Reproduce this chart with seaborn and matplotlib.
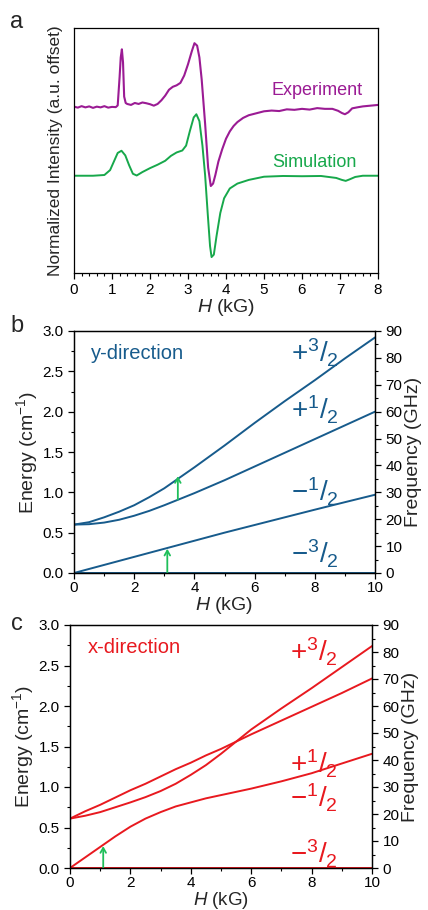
import matplotlib
matplotlib.use('Agg')
import matplotlib.pyplot as plt
import seaborn as sns
from matplotlib.ticker import MultipleLocator

# Цвета
purple = '#9b1b94'
green_sim = '#17a84b'
green_arrow = '#1fbf5a'
blue = '#175b8c'
red = '#e8191f'

# --- панель a: спектры ЭПР ---
exp_H = [0.0, 0.1, 0.2, 0.3, 0.4, 0.5, 0.6, 0.7, 0.8, 0.9, 1.0, 1.1, 1.15, 1.2, 1.23, 1.26,
         1.29, 1.32, 1.36, 1.4, 1.5, 1.6, 1.7, 1.8, 1.9, 2.0, 2.1, 2.2, 2.3, 2.4, 2.5, 2.6,
         2.7, 2.8, 2.9, 3.0, 3.1, 3.17, 3.24, 3.3, 3.36, 3.45, 3.53, 3.6, 3.66, 3.72, 3.8,
         3.9, 4.0, 4.1, 4.2, 4.3, 4.45, 4.6, 4.8, 5.0, 5.2, 5.4, 5.6, 5.8, 6.0, 6.2, 6.4,
         6.6, 6.8, 6.95, 7.05, 7.13, 7.22, 7.32, 7.45, 7.6, 7.8, 8.0]
exp_I = [0.679, 0.675, 0.681, 0.676, 0.680, 0.674, 0.679, 0.676, 0.681, 0.675, 0.678, 0.677,
         0.684, 0.80, 0.88, 0.913, 0.86, 0.72, 0.694, 0.690, 0.686, 0.694, 0.690, 0.696,
         0.693, 0.689, 0.683, 0.690, 0.705, 0.724, 0.748, 0.760, 0.766, 0.776, 0.806, 0.852,
         0.905, 0.938, 0.928, 0.88, 0.79, 0.61, 0.43, 0.355, 0.365, 0.40, 0.455, 0.505,
         0.548, 0.578, 0.600, 0.616, 0.633, 0.644, 0.652, 0.660, 0.663, 0.661, 0.668, 0.666,
         0.670, 0.667, 0.673, 0.670, 0.670, 0.662, 0.653, 0.648, 0.656, 0.672, 0.676, 0.680,
         0.683, 0.686]

sim_H = [0.0, 0.5, 0.8, 0.95, 1.05, 1.15, 1.25, 1.35, 1.45, 1.55, 1.65, 1.8, 2.0, 2.2, 2.4,
         2.55, 2.7, 2.85, 2.95, 3.05, 3.15, 3.22, 3.3, 3.38, 3.45, 3.52, 3.58, 3.62, 3.68,
         3.75, 3.85, 3.95, 4.1, 4.3, 4.6, 5.0, 5.5, 6.0, 6.5, 6.9, 7.05, 7.15, 7.25, 7.4,
         7.6, 8.0]
sim_I = [0.397, 0.397, 0.400, 0.420, 0.455, 0.490, 0.499, 0.480, 0.440, 0.405, 0.398, 0.412,
         0.428, 0.442, 0.458, 0.478, 0.492, 0.500, 0.52, 0.58, 0.635, 0.648, 0.620, 0.520,
         0.40, 0.24, 0.11, 0.065, 0.075, 0.15, 0.245, 0.305, 0.345, 0.365, 0.380, 0.393,
         0.396, 0.395, 0.396, 0.388, 0.380, 0.376, 0.382, 0.392, 0.397, 0.397]

# --- панель b: y-направление ---
yb_H = [0, 0.5, 1, 1.5, 2, 2.5, 3, 3.5, 4, 5, 6, 7, 8, 9, 10]
yb_p32 = [0.60, 0.63, 0.69, 0.76, 0.84, 0.94, 1.05, 1.18, 1.31, 1.58, 1.86, 2.13, 2.39, 2.66, 2.92]
yb_p12 = [0.60, 0.605, 0.625, 0.66, 0.71, 0.77, 0.84, 0.915, 0.99, 1.15, 1.32, 1.49, 1.66, 1.83, 2.00]
yb_m12 = [0.0, 0.05, 0.10, 0.15, 0.20, 0.25, 0.30, 0.35, 0.40, 0.50, 0.595, 0.69, 0.785, 0.878, 0.97]
yb_m32 = [0.0] * 15

# --- панель c: x-направление ---
xc_H = [0, 0.5, 1, 1.5, 2, 2.5, 3, 3.5, 4, 4.5, 5, 5.5, 6, 7, 8, 9, 10]
xc_upper = [0.61, 0.70, 0.78, 0.87, 0.96, 1.04, 1.13, 1.22, 1.30, 1.39, 1.47, 1.56, 1.65,
            1.82, 1.99, 2.16, 2.34]
xc_lower = [0.61, 0.645, 0.69, 0.75, 0.81, 0.875, 0.95, 1.04, 1.15, 1.27, 1.41, 1.56, 1.71,
            1.97, 2.22, 2.48, 2.74]
xc_m12 = [0.0, 0.13, 0.26, 0.39, 0.51, 0.61, 0.69, 0.76, 0.81, 0.86, 0.90, 0.94, 0.98,
          1.07, 1.17, 1.29, 1.41]
xc_m32 = [0.0] * 17

# стрелки переходов (H, E_низ, E_верх)
arrows_b = [(3.1, 0.0, 0.30), (3.45, 0.91, 1.20)]
arrows_c = [(1.1, 0.0, 0.27)]

spin_labels = [r'$+^{3}/_{2}$', r'$+^{1}/_{2}$', r'$-^{1}/_{2}$', r'$-^{3}/_{2}$']

sns.set_style('ticks')
plt.rcParams['font.family'] = ['Liberation Sans', 'DejaVu Sans']
plt.rcParams['mathtext.fontset'] = 'custom'
plt.rcParams['mathtext.rm'] = 'Liberation Sans'
plt.rcParams['mathtext.it'] = 'Liberation Sans:italic'
plt.rcParams['axes.edgecolor'] = 'black'
plt.rcParams['axes.linewidth'] = 0.9
plt.rcParams['xtick.color'] = 'black'
plt.rcParams['ytick.color'] = 'black'

fig = plt.figure(figsize=(4.28, 9.10), dpi=100)
ax_a = fig.add_axes([74 / 428, 1 - 273 / 910, 304 / 428, 245 / 910])
ax_b = fig.add_axes([74 / 428, 1 - 573 / 910, 301 / 428, 242 / 910])
ax_c = fig.add_axes([70 / 428, 1 - 868 / 910, 302 / 428, 243 / 910])

tick_fs = 11
label_fs = 14

# Панель a
sns.lineplot(x=exp_H, y=exp_I, ax=ax_a, color=purple, lw=1.5, errorbar=None)
sns.lineplot(x=sim_H, y=sim_I, ax=ax_a, color=green_sim, lw=1.4, errorbar=None)
ax_a.set_xlim(0, 8)
ax_a.set_ylim(0, 1)
ax_a.set_yticks([])
ax_a.xaxis.set_major_locator(MultipleLocator(1))
ax_a.xaxis.set_minor_locator(MultipleLocator(0.2))
ax_a.tick_params(axis='x', which='major', length=4, width=0.9, labelsize=tick_fs, direction='out')
ax_a.tick_params(axis='x', which='minor', length=2.5, width=0.8, direction='out')
ax_a.set_xlabel('$H$ (kG)', fontsize=label_fs, labelpad=0)
ax_a.set_ylabel('Normalized Intensity (a.u. offset)', fontsize=12.5, labelpad=8)
ax_a.text(5.2, 0.745, 'Experiment', color=purple, fontsize=13, va='center')
ax_a.text(5.22, 0.45, 'Simulation', color=green_sim, fontsize=13, va='center')


def energy_panel(ax, H, curves, color, title, label_pos, arrows, xpad, xfs):
    for E in curves:
        sns.lineplot(x=H, y=E, ax=ax, color=color, lw=1.4, errorbar=None)
    ax.set_xlim(0, 10)
    ax.set_ylim(0, 3.0)
    ax.xaxis.set_major_locator(MultipleLocator(2))
    ax.xaxis.set_minor_locator(MultipleLocator(1))
    ax.yaxis.set_major_locator(MultipleLocator(0.5))
    ax.yaxis.set_minor_locator(MultipleLocator(0.25))
    ax.tick_params(which='major', length=4, width=0.9, labelsize=tick_fs, direction='out')
    ax.tick_params(which='minor', length=2.5, width=0.8, direction='out')
    ax.tick_params(axis='x', pad=2)
    ax.set_xlabel('$H$ (kG)', fontsize=xfs, labelpad=xpad)
    ax.set_ylabel('Energy (cm$^{-1}$)', fontsize=label_fs, labelpad=2)
    ax.text(0.58, 2.72, title, color=color, fontsize=14.5, va='center')
    for (x, y), s in zip(label_pos, spin_labels):
        ax.text(x, y, s, color=color, fontsize=20, va='center')
    for h, e0, e1 in arrows:
        ax.annotate('', xy=(h, e1), xytext=(h, e0),
                    arrowprops=dict(arrowstyle='->,head_length=0.35,head_width=0.2',
                                    color=green_arrow, lw=1.3, shrinkA=0, shrinkB=0))
    ax2 = ax.twinx()
    ax2.set_ylim(0, 90)
    ax2.yaxis.set_major_locator(MultipleLocator(10))
    ax2.yaxis.set_minor_locator(MultipleLocator(5))
    ax2.tick_params(which='major', length=4, width=0.9, labelsize=tick_fs, direction='out')
    ax2.tick_params(which='minor', length=2.5, width=0.8, direction='out')
    ax2.set_ylabel('Frequency (GHz)', fontsize=label_fs, labelpad=2)
    return ax2


energy_panel(ax_b, yb_H, [yb_p32, yb_p12, yb_m12, yb_m32], blue, 'y-direction',
             [(7.2, 2.73), (7.2, 2.02), (7.2, 1.0), (7.2, 0.24)], arrows_b, 0, label_fs)
energy_panel(ax_c, xc_H, [xc_upper, xc_lower, xc_m12, xc_m32], red, 'x-direction',
             [(7.3, 2.67), (7.3, 1.28), (7.3, 0.86), (7.3, 0.18)], arrows_c, 0, 13.5)

fig.text(10 / 428, 1 - 28 / 910, 'a', fontsize=17)
fig.text(10 / 428, 1 - 332 / 910, 'b', fontsize=17)
fig.text(11 / 428, 1 - 630 / 910, 'c', fontsize=17)

fig.savefig('out.png', dpi=100)
